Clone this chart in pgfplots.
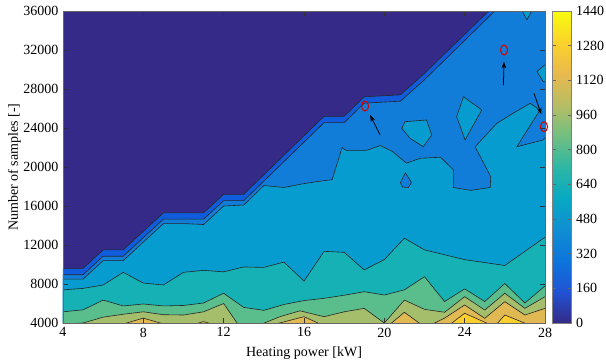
\documentclass[border=0pt]{standalone}
\usepackage{pgfplots}
\pgfplotsset{compat=1.18}
\usepackage{pgfplotstable}
\usetikzlibrary{arrows.meta}
\usepackage{fontspec}
\setmainfont{Liberation Serif}

\definecolor{bA}{RGB}{53,42,135}
\definecolor{bB}{RGB}{15,92,221}
\definecolor{bC}{RGB}{18,125,216}
\definecolor{bD}{RGB}{7,156,207}
\definecolor{bE}{RGB}{21,177,180}
\definecolor{bF}{RGB}{89,189,140}
\definecolor{bG}{RGB}{165,190,107}
\definecolor{bH}{RGB}{225,185,82}
\definecolor{bI}{RGB}{252,206,46}

% contour at 160
\pgfplotstableread{
x y
4 9600
5 9600
6 11500
7 11500
9 15300
11 15300
12 17200
13 17200
17 25200
18 25200
19 27200
20.8 27400
22 29600
25.2 36000
25.5 37000
28 37000
}\ta
% contour at 320
\pgfplotstableread{
x y
4 8950
5 8950
6 10850
7 10850
9 14650
11 14650
12 16550
13 16550
17 24550
18 24550
19 26550
20.8 26750
22 28950
25.5 36000
25.8 37000
28 37000
}\tb
% contour at 480
\pgfplotstableread{
x y
4 8500
5 8500
6 10400
7 10400
9 14200
10 14200
11 14100
12 16000
13 16100
14 18100
15 17900
16 18300
17 18600
17.4 18700
17.9 22000
18.1 21700
19.1 21700
19.8 22200
20.4 21600
21.1 20400
21.8 20900
22.8 21000
23.44 19700
23.44 17900
24.3 17600
25.27 17900
25.3 19000
24.52 22080
25.6 24480
26.4 25500
27.26 26530
27.75 25850
26.6 22080
27.9 22770
28 23000
}\tc
% contour at 640
\pgfplotstableread{
x y
4 7400
5 7550
6 7900
7 9200
8 8100
9 7900
10 9200
11 9400
12 9250
13 9750
14 9700
15 10250
16 8300
17 11350
18 11250
19 9450
20 10500
21 12700
22 11500
24 10500
26 9900
28 12800
}\td
% contour at 800
\pgfplotstableread{
x y
4 5150
5 5350
6 6350
7 5750
8 5950
9 5750
10 5800
11 6050
12 7050
13 5600
14 5300
15 5900
16 6300
17 6530
18 6850
19 7210
20 6870
21 7400
22 8750
23 6200
24 7500
25 6200
26 8050
27 6050
28 7800
}\te
% contour at 960
\pgfplotstableread{
x y
4 3900
5 4000
6 4600
7 4900
8 5150
9 4850
10 4820
11 5150
12 6000
12.7 3900
13.9 3900
14.8 4650
15.8 5250
17 4650
18 5150
19 5500
20 4000
21 6350
22 5400
23 5100
24 6700
25 5330
26 7050
27 5500
28 6700
}\tf
% contour at 1120
\pgfplotstableread{
x y
4 3900
7 3900
8 4500
9 3900
10.6 3900
11 4150
11.4 3900
14.6 3900
16 4650
16.8 3900
20.3 3900
21 5100
21.8 3900
22.4 3900
23 4500
24 5850
25 4480
26 6190
27 4820
28 5500
}\tg
% contour at 1280
\pgfplotstableread{
x y
4 3900
23.3 3900
24 5000
25.2 3900
25.6 3900
26 4820
27.1 3900
28 3900
}\th

\begin{document}
\begin{tikzpicture}
\begin{axis}[
  at={(0pt,0pt)}, anchor=south west,
  scale only axis, width=361.5pt, height=234pt,
  xmin=4, xmax=28, ymin=4000, ymax=36000,
  xtick={4,8,...,28}, ytick={4000,8000,...,36000},
  scaled ticks=false,
  /pgf/number format/1000 sep={},
  /pgf/number format/assume math mode=true,
  tick align=inside, major tick length=4pt,
  tick style={black!80, line width=0.4pt},
  axis line style={black!60, line width=0.5pt},
  axis on top,
  xlabel={Heating power [kW]}, ylabel={Number of samples [-]},
  tick label style={font=\fontsize{10.5}{12}\selectfont},
  label style={font=\fontsize{10.5}{12}\selectfont},
  xlabel style={yshift=-0.5pt},
  ylabel shift=-5pt,
  colormap={parula}{rgb255=(53,42,135) rgb255=(32,83,212) rgb255=(13,117,220) rgb255=(16,142,210) rgb255=(7,169,194) rgb255=(46,183,164) rgb255=(113,191,128) rgb255=(183,189,100) rgb255=(233,185,78) rgb255=(250,211,42) rgb255=(249,251,14)},
  colorbar,
  point meta min=0, point meta max=1440,
  colorbar style={
    at={(parent axis.north east)}, anchor=north west, xshift=-3pt,
    width=14.25pt,
    ytick={0,160,...,1440},
    tick align=inside, major tick length=2.5pt,
    tick style={black!60, line width=0.4pt},
    axis line style={black!50, line width=0.5pt},
    yticklabel style={font=\fontsize{10.5}{12}\selectfont, /pgf/number format/assume math mode=true, /pgf/number format/1000 sep={}},
  },
  contour line/.style={draw=black!85, line width=0.45pt},
]
\fill[bA] (rel axis cs:0,0) rectangle (rel axis cs:1,1);
\addplot[fill=bB, draw=none] table {\ta} \closedcycle;
\addplot[fill=bC, draw=none] table {\tb} \closedcycle;
\addplot[fill=bD, draw=none] table {\tc} \closedcycle;
\addplot[fill=bD, contour line] coordinates {(21.03,24650) (22.1,24820) (22.36,23280) (21.94,22080) (21.28,22940) (20.87,23970)} -- cycle;
\addplot[fill=bD, contour line] coordinates {(23.94,27210) (24.85,25850) (24.02,22770) (23.6,25160)} -- cycle;
\addplot[fill=bD, contour line] coordinates {(26.7,36600) (27.1,35100) (27.5,36600)} -- cycle;
\addplot[fill=bD, contour line] coordinates {(28.3,31000) (27.6,29800) (27.9,28800) (28.3,28500)} -- cycle;
\addplot[fill=bC, contour line] coordinates {(21.05,19400) (21.35,18400) (21.2,17900) (20.9,17950) (20.8,18400)} -- cycle;
\addplot[fill=bE, draw=none] table {\td} \closedcycle;
\addplot[fill=bF, draw=none] table {\te} \closedcycle;
\addplot[fill=bG, draw=none] table {\tf} \closedcycle;
\addplot[fill=bH, draw=none] table {\tg} \closedcycle;
\addplot[fill=bI, draw=none] table {\th} \closedcycle;
\addplot[contour line] table {\ta};
\addplot[contour line] table {\tb};
\addplot[contour line] table {\tc};
\addplot[contour line] table {\td};
\addplot[contour line] table {\te};
\addplot[contour line] table {\tf};
\addplot[contour line] table {\tg};
\addplot[contour line] table {\th};
\addplot[black, line width=0.6pt, -{Stealth[length=5pt,width=3.5pt]}] coordinates {(19.79,23280) (19.29,25330)};
\addplot[black, line width=0.6pt, -{Stealth[length=5pt,width=3.5pt]}] coordinates {(25.93,28410) (25.96,30800)};
\addplot[black, line width=0.6pt, -{Stealth[length=5pt,width=3.5pt]}] coordinates {(27.45,27560) (27.82,25400)};
\addplot[only marks, mark=o, mark size=3.75pt, mark options={xscale=0.7, draw=red!85!black, line width=0.8pt}] coordinates {(19.04,26250) (25.96,32000) (27.95,24130)};
\end{axis}
\pgfresetboundingbox
\path (-47.25pt,-29.25pt) rectangle (407.25pt,242.25pt);
\end{tikzpicture}
\end{document}
